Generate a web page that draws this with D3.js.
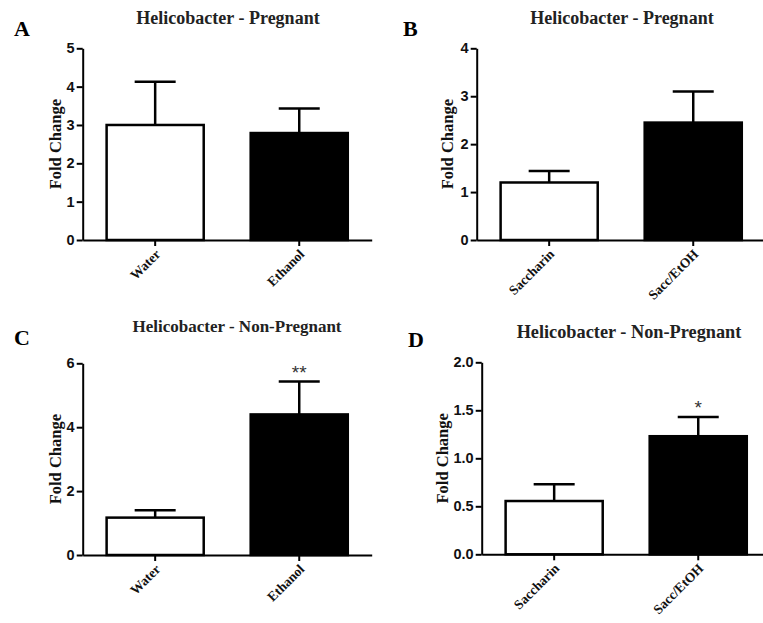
<!DOCTYPE html>
<html>
<head>
<meta charset="utf-8">
<script src="https://cdn.jsdelivr.net/npm/d3@7"></script>
<style>
body { margin: 0; background: #fff; }
svg { display: block; }
</style>
</head>
<body>
<script>
var width = 763, height = 623;
var serif = '"Liberation Serif", "Times New Roman", serif';
var sans = '"Liberation Sans", Arial, sans-serif';

/** values **/
var panelLetters = ["A", "B", "C", "D"];
var panelTitles = ["Helicobacter - Pregnant", "Helicobacter - Pregnant",
                   "Helicobacter - Non-Pregnant", "Helicobacter - Non-Pregnant"];
var drinkGroups = ["Water", "Ethanol"];
var saccGroups = ["Saccharin", "Sacc/EtOH"];

var meansA = [3.00, 2.79], semA = [1.13, 0.64];
var meansB = [1.20, 2.45], semB = [0.24, 0.65];
var meansC = [1.17, 4.40], semC = [0.23, 1.03];
var meansD = [0.555, 1.23], semD = [0.175, 0.20];

var starsA = ["", ""], starsB = ["", ""];
var starsC = ["", "**"], starsD = ["", "*"];

var yTicksA = [0, 1, 2, 3, 4, 5];
var yTicksB = [0, 1, 2, 3, 4];
var yTicksC = [0, 2, 4, 6];
var yTicksD = [0, 0.5, 1.0, 1.5, 2.0];

var fillColors = ["#fff", "#000"];

/** where each panel sits on the page **/
var layout = [
    { left: 82.7, top: 48.3, bottom: 240, titleX: 228, titleY: 24, titleSize: 18, letterX: 14, letterY: 36, labelX: 55, fmt: d3.format("d") },
    { left: 476.7, top: 48.3, bottom: 240, titleX: 622, titleY: 24, titleSize: 18, letterX: 403, letterY: 36, labelX: 447, fmt: d3.format("d") },
    { left: 82.7, top: 363.3, bottom: 555, titleX: 237, titleY: 332, titleSize: 17, letterX: 14, letterY: 345, labelX: 55, fmt: d3.format("d") },
    { left: 481.7, top: 362.3, bottom: 554.3, titleX: 629, titleY: 338, titleSize: 18.3, letterX: 408, letterY: 347, labelX: 442.5, fmt: d3.format(".1f") }
];

var panels = [
    { cats: drinkGroups, means: meansA, sems: semA, stars: starsA, ticks: yTicksA },
    { cats: saccGroups, means: meansB, sems: semB, stars: starsB, ticks: yTicksB },
    { cats: drinkGroups, means: meansC, sems: semC, stars: starsC, ticks: yTicksC },
    { cats: saccGroups, means: meansD, sems: semD, stars: starsD, ticks: yTicksD }
];

var svg = d3.select("body").append("svg")
    .attr("width", width).attr("height", height);

panels.forEach(function(p, i) { drawPanel(p, layout[i], i); });

function drawPanel(p, L, i) {
    var g = svg.append("g");
    var yMax = p.ticks[p.ticks.length - 1];

    var y = d3.scaleLinear().domain([0, yMax]).range([L.bottom, L.top]);
    var x = d3.scaleBand().domain(p.cats)
        .range([L.left, L.left + 289])
        .paddingInner(0.326).paddingOuter(0.166);

    var rows = p.cats.map(function(c, k) {
        return { cat: c, mean: p.means[k], sem: p.sems[k], star: p.stars[k], fill: fillColors[k] };
    });

    // error bars (upper half only, like the original)
    var err = g.selectAll("g.err").data(rows).join("g").attr("class", "err");
    err.append("line")
        .attr("x1", d => x(d.cat) + x.bandwidth() / 2)
        .attr("x2", d => x(d.cat) + x.bandwidth() / 2)
        .attr("y1", d => y(d.mean))
        .attr("y2", d => y(d.mean + d.sem))
        .attr("stroke", "#000").attr("stroke-width", 2.5);
    err.append("line")
        .attr("x1", d => x(d.cat) + x.bandwidth() / 2 - 20.5)
        .attr("x2", d => x(d.cat) + x.bandwidth() / 2 + 20.5)
        .attr("y1", d => y(d.mean + d.sem))
        .attr("y2", d => y(d.mean + d.sem))
        .attr("stroke", "#000").attr("stroke-width", 2.5);

    // bars
    g.selectAll("rect.bar").data(rows).join("rect")
        .attr("class", "bar")
        .attr("x", d => x(d.cat))
        .attr("y", d => y(d.mean))
        .attr("width", x.bandwidth())
        .attr("height", d => y(0) - y(d.mean))
        .attr("fill", d => d.fill)
        .attr("stroke", "#000")
        .attr("stroke-width", 2.5);

    // significance stars
    g.selectAll("text.star").data(rows.filter(d => d.star)).join("text")
        .attr("class", "star")
        .attr("x", d => x(d.cat) + x.bandwidth() / 2)
        .attr("y", d => y(d.mean + d.sem) - 3)
        .attr("text-anchor", "middle")
        .style("font-family", sans)
        .style("font-size", "19px")
        .attr("fill", "#333")
        .text(d => d.star);

    // y axis
    var yAxis = g.append("g")
        .attr("transform", "translate(" + L.left + ",0)")
        .call(d3.axisLeft(y).tickValues(p.ticks).tickFormat(L.fmt).tickSize(6).tickSizeOuter(0).tickPadding(2));
    yAxis.select(".domain").attr("stroke-width", 2);
    yAxis.selectAll(".tick line").attr("stroke-width", 2);
    yAxis.selectAll(".tick text")
        .style("font-family", sans)
        .style("font-weight", "bold")
        .style("font-size", "14.5px")
        .attr("fill", "#111");

    // x axis
    var xAxis = g.append("g")
        .attr("transform", "translate(0," + L.bottom + ")")
        .call(d3.axisBottom(x).tickSize(6).tickSizeOuter(0));
    xAxis.select(".domain").attr("stroke-width", 2);
    xAxis.selectAll(".tick line").attr("stroke-width", 2);
    xAxis.selectAll(".tick text")
        .style("font-family", serif)
        .style("font-weight", "bold")
        .style("font-size", "13.5px")
        .attr("fill", "#111")
        .attr("text-anchor", "end")
        .attr("x", 0).attr("y", 0).attr("dy", null)
        .attr("transform", "translate(6,15) rotate(-45)");

    // axis title
    g.append("text")
        .attr("transform", "translate(" + L.labelX + "," + ((L.top + L.bottom) / 2) + ") rotate(-90)")
        .attr("text-anchor", "middle")
        .attr("dominant-baseline", "central")
        .style("font-family", serif)
        .style("font-weight", "bold")
        .style("font-size", "16.5px")
        .attr("fill", "#111")
        .text("Fold Change");

    // panel title and letter
    g.append("text")
        .attr("x", L.titleX).attr("y", L.titleY)
        .attr("text-anchor", "middle")
        .style("font-family", serif)
        .style("font-weight", "bold")
        .style("font-size", L.titleSize + "px")
        .attr("fill", "#222")
        .text(panelTitles[i]);

    g.append("text")
        .attr("x", L.letterX).attr("y", L.letterY)
        .style("font-family", serif)
        .style("font-weight", "bold")
        .style("font-size", "22px")
        .text(panelLetters[i]);
}
</script>
</body>
</html>
